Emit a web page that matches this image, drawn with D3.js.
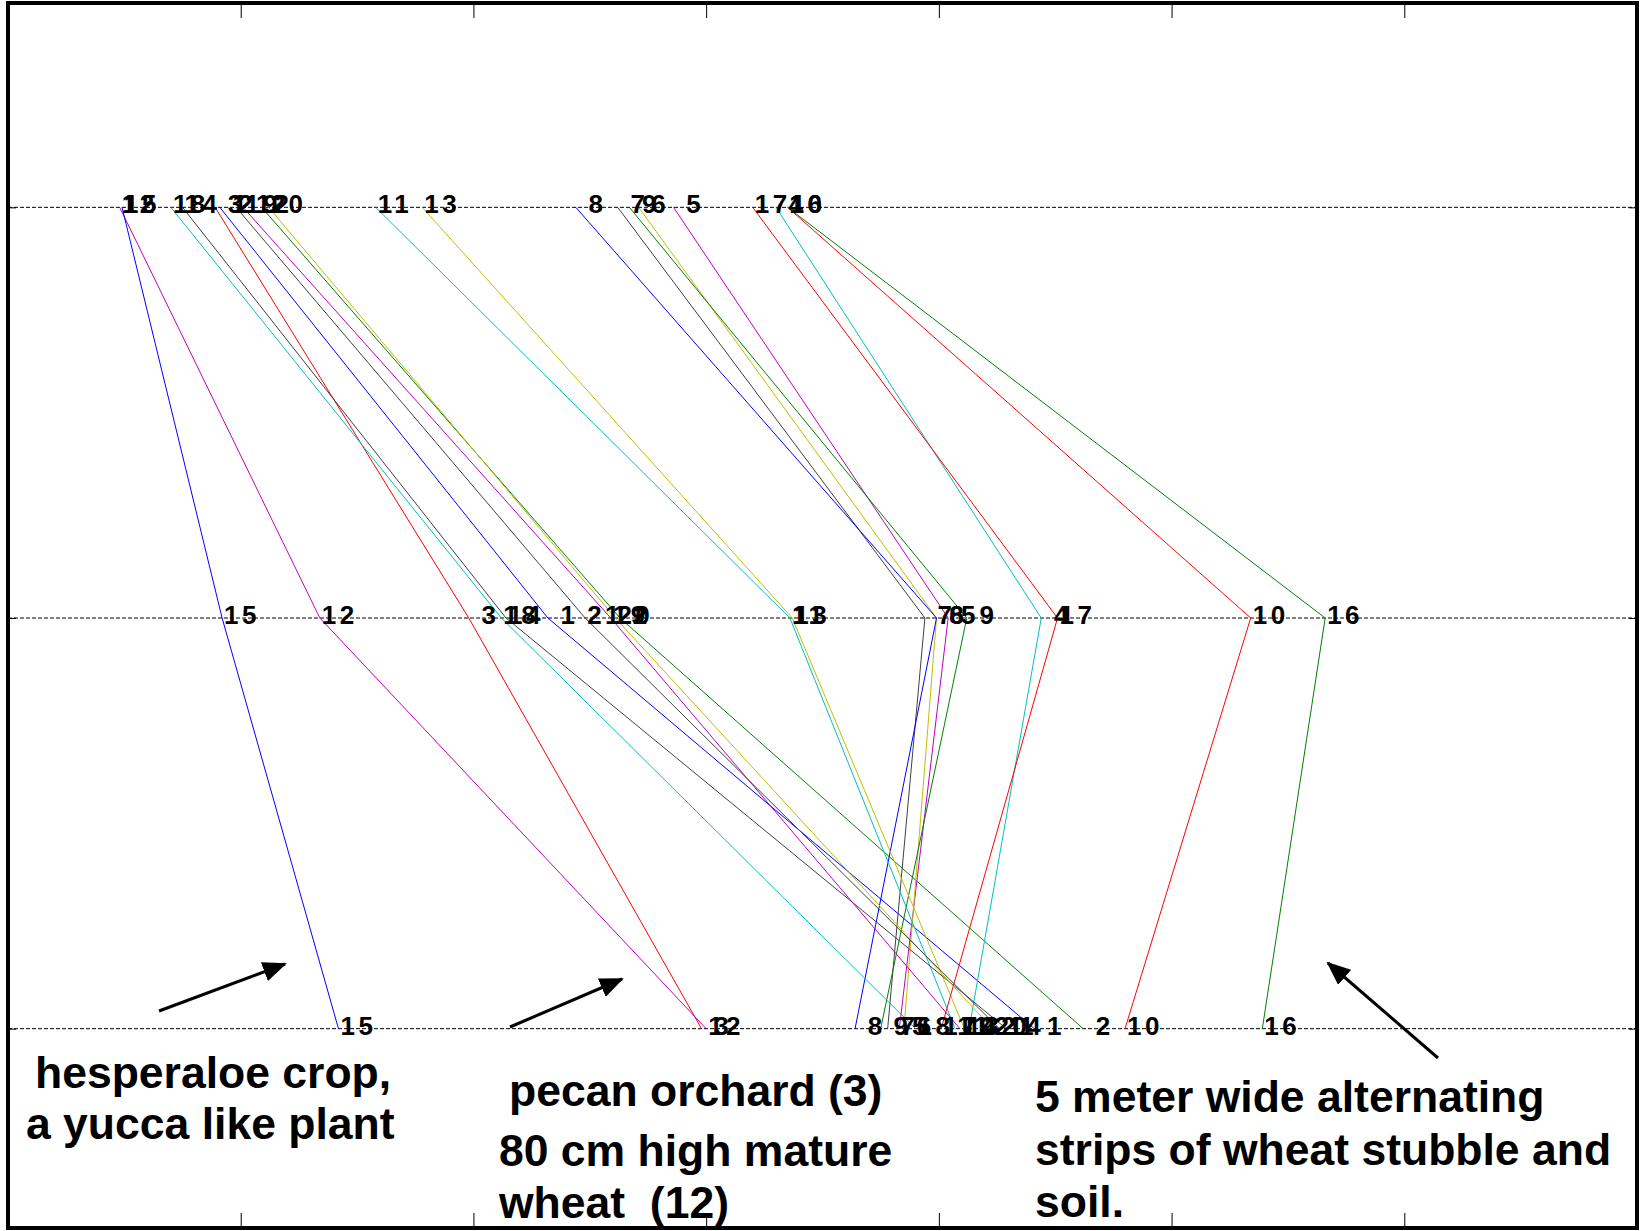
<!DOCTYPE html>
<html>
<head>
<meta charset="utf-8">
<script src="https://cdn.jsdelivr.net/npm/d3@7"></script>
<style>
body { margin: 0; background: #fff; }
svg { display: block; }
.lbl { font-family: "Liberation Sans", Arial, sans-serif; font-weight: bold; font-size: 26px; letter-spacing: 3.5px; white-space: pre; fill: #000; }
.note { font-family: "Liberation Sans", Arial, sans-serif; font-weight: bold; font-size: 44.5px; fill: #000; white-space: pre; }
</style>
</head>
<body>
<div id="chart"></div>
<script>
// site numbers and their position on each of the three rows
var sites = [1, 2, 3, 4, 5, 6, 7, 8, 9, 10, 11, 12, 13, 14, 15, 16, 17, 18, 19, 20, 21];
var row1 = [0.91, 1.09, 0.89, 3.30, 2.86, 2.71, 2.62, 2.44, 2.67, 3.35, 1.58, 0.48, 1.78, 0.75, 0.49, 3.35, 3.20, 0.70, 1.01, 1.12, 0.98];
var row2 = [2.32, 2.63, 1.98, 4.44, 4.04, 3.99, 3.94, 3.99, 4.12, 5.34, 3.36, 1.34, 3.37, 2.14, 0.92, 5.66, 4.51, 2.12, 2.59, 2.61, 2.48];
var row3 = [4.41, 4.62, 2.98, 4.13, 3.83, 3.85, 3.78, 3.64, 3.75, 4.80, 4.07, 3.00, 4.11, 4.29, 1.42, 5.39, 4.01, 3.90, 4.09, 4.23, 4.26];
var rows = [1, 2, 3];
var xTicks = [1, 2, 3, 4, 5, 6];

var palette = ["#0000ff", "#008000", "#ff0000", "#00bfbf", "#bf00bf", "#bfbf00", "#404040"];

var noteLines = [
  ["hesperaloe crop,", 35, 1088],
  ["a yucca like plant", 26, 1139],
  ["pecan orchard (3)", 509, 1106],
  ["80 cm high mature", 499, 1166],
  ["wheat  (12)", 499, 1218],
  ["5 meter wide alternating", 1035, 1112],
  ["strips of wheat stubble and", 1035, 1165],
  ["soil.", 1035, 1217]
];
var arrows = [
  [159, 1011, 285, 964],
  [510, 1027, 622, 979],
  [1438, 1058, 1328, 963]
];

var W = 1640, H = 1231;
var L = 8, R = 1637, T = 3, B = 1228;

var svg = d3.select("#chart").append("svg").attr("width", W).attr("height", H);

var x = d3.scaleLinear().domain([0, 7]).range([L, R]);
var y = d3.scaleLinear().domain([0.5, 3.5]).range([2, 1234]);

// dashed row lines
svg.selectAll(".grid").data(rows).enter().append("line")
  .attr("x1", L).attr("x2", R)
  .attr("y1", function (d) { return y(d); }).attr("y2", function (d) { return y(d); })
  .attr("stroke", "#000").attr("stroke-width", 1).attr("stroke-dasharray", "4,2");

// axes ticks, no labels
var topAxis = d3.axisTop(x).tickValues(xTicks).tickSize(-15).tickFormat("");
var botAxis = d3.axisBottom(x).tickValues(xTicks).tickSize(-15).tickFormat("");
var leftAxis = d3.axisLeft(y).tickValues(rows).tickSize(-8).tickFormat("");
var rightAxis = d3.axisRight(y).tickValues(rows).tickSize(-8).tickFormat("");
svg.append("g").attr("transform", "translate(0," + T + ")").call(topAxis);
svg.append("g").attr("transform", "translate(0," + B + ")").call(botAxis);
svg.append("g").attr("transform", "translate(" + L + ",0)").call(leftAxis);
svg.append("g").attr("transform", "translate(" + R + ",0)").call(rightAxis);
svg.selectAll(".domain").remove();
svg.selectAll(".tick line").attr("stroke", "#000");

var series = sites.map(function (s, i) {
  return { id: s, pts: [[row1[i], 1], [row2[i], 2], [row3[i], 3]] };
});

var line = d3.line()
  .x(function (d) { return x(d[0]); })
  .y(function (d) { return y(d[1]); });

svg.selectAll(".site").data(series).enter().append("path")
  .attr("class", "site")
  .attr("d", function (d) { return line(d.pts); })
  .attr("fill", "none")
  .attr("stroke", function (d, i) { return palette[i % palette.length]; })
  .attr("stroke-width", 1);

// number labels, single digits padded with a space
series.forEach(function (s) {
  svg.selectAll(null).data(s.pts).enter().append("text")
    .attr("class", "lbl")
    .attr("x", function (d) { return x(d[0]) + 2; })
    .attr("y", function (d) { return y(d[1]) + 6; })
    .text((s.id < 10 ? " " : "") + s.id);
});

// frame
svg.append("rect").attr("x", L).attr("y", T).attr("width", R - L).attr("height", B - T)
  .attr("fill", "none").attr("stroke", "#000").attr("stroke-width", 4);

// arrows
svg.append("defs").append("marker")
  .attr("id", "head").attr("markerUnits", "userSpaceOnUse")
  .attr("viewBox", "0 0 24 20").attr("refX", 22).attr("refY", 10)
  .attr("markerWidth", 24).attr("markerHeight", 20).attr("orient", "auto")
  .append("path").attr("d", "M0,0 L24,10 L0,20 Z").attr("fill", "#000");

svg.selectAll(".arrow").data(arrows).enter().append("line")
  .attr("x1", function (d) { return d[0]; }).attr("y1", function (d) { return d[1]; })
  .attr("x2", function (d) { return d[2]; }).attr("y2", function (d) { return d[3]; })
  .attr("stroke", "#000").attr("stroke-width", 3)
  .attr("marker-end", "url(#head)");

svg.selectAll(".note").data(noteLines).enter().append("text")
  .attr("class", "note")
  .attr("x", function (d) { return d[1]; })
  .attr("y", function (d) { return d[2]; })
  .text(function (d) { return d[0]; });
</script>
</body>
</html>
